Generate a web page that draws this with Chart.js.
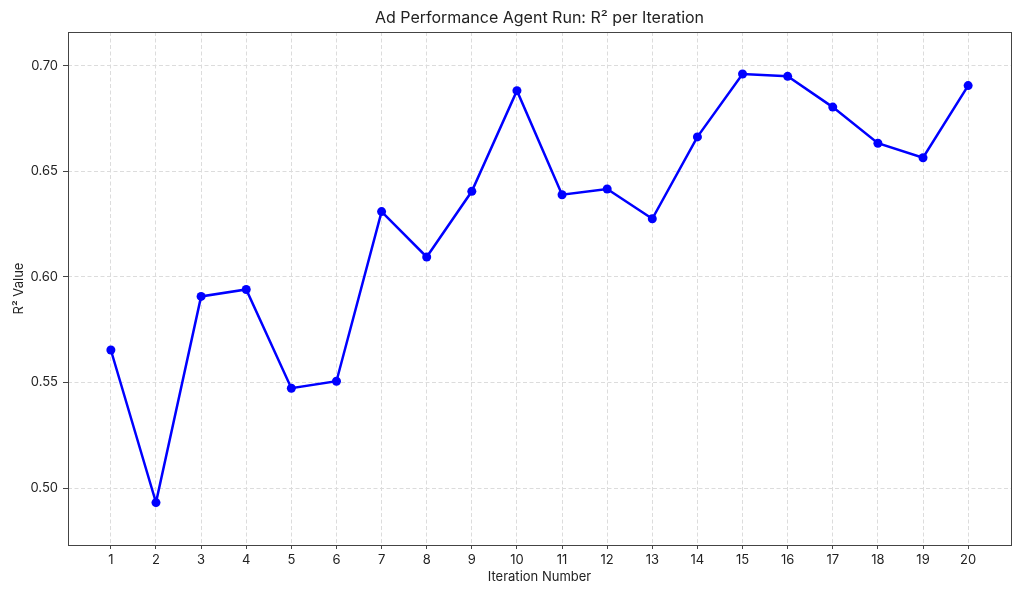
<!DOCTYPE html>
<html>
<head>
<meta charset="utf-8">
<script src="https://cdn.jsdelivr.net/npm/chart.js@4/dist/chart.umd.min.js"></script>
<style>
	html, body { margin: 0; padding: 0; background: #fff; }
	#wrap { width: 1024px; height: 597px; }
</style>
</head>
<body>
<div id="wrap"><canvas id="myChart" width="1024" height="597"></canvas></div>
<script>
var iterations = [1, 2, 3, 4, 5, 6, 7, 8, 9, 10, 11, 12, 13, 14, 15, 16, 17, 18, 19, 20]
var r2Values = [0.5654, 0.4931, 0.5908, 0.5941, 0.5473, 0.5506, 0.6310, 0.6095, 0.6406, 0.6883,
	0.6390, 0.6417, 0.6276, 0.6664, 0.6962, 0.6951, 0.6805, 0.6634, 0.6565, 0.6907]
var yTicks = [0.50, 0.55, 0.60, 0.65, 0.70]

var fontFamily = "Inter, 'Open Sans', sans-serif"
var gridColor = "#dcdcdc"
var frameColor = "#444"

// box round the plot area, like matplotlib spines
var framePlugin = {
	id: 'frame',
	afterDatasetsDraw: function(chart) {
		var a = chart.chartArea
		var ctx = chart.ctx
		ctx.save()
		ctx.strokeStyle = frameColor
		ctx.lineWidth = 1
		ctx.strokeRect(Math.round(a.left) + 0.5, Math.round(a.top) + 0.5, Math.round(a.right - a.left), Math.round(a.bottom - a.top))
		ctx.restore()
	}
}

var points = iterations.map(function(it, i){ return {x: it, y: r2Values[i]} })

var canvasCtx = document.getElementById("myChart").getContext('2d')
var config = {
	type: 'line',
	data: {
		datasets: [{
			label: 'R²',
			data: points,
			borderColor: '#0000ff',
			backgroundColor: '#0000ff',
			borderWidth: 2.5,
			pointRadius: 4.5,
			pointHoverRadius: 4.5,
			pointBorderWidth: 0,
			tension: 0,
			fill: false
		}]
	},
	options: {
		responsive: false,
		maintainAspectRatio: false,
		animation: false,
		layout: { padding: { left: 0, right: 13, top: 0, bottom: 0 } },
		plugins: {
			legend: { display: false },
			tooltip: { enabled: false },
			title: {
				display: true,
				text: 'Ad Performance Agent Run: R² per Iteration',
				fullSize: false,
				color: '#222',
				font: { family: fontFamily, size: 16, weight: 'normal', lineHeight: 1.2 },
				padding: { top: 9, bottom: 3.8 }
			}
		},
		scales: {
			x: {
				type: 'linear',
				min: 0.05,
				max: 20.95,
				afterBuildTicks: function(axis) {
					axis.ticks = iterations.map(function(v){ return {value: v} })
				},
				afterFit: function(scale) { scale.height = 52 },
				border: { display: false, dash: [4, 2.5] },
				grid: {
					color: gridColor,
					lineWidth: 1,
					tickLength: 4,
					tickColor: frameColor,
					tickWidth: 1
				},
				ticks: {
					color: '#222',
					padding: 3,
					maxRotation: 0,
					autoSkip: false,
					font: { family: fontFamily, size: 13 },
					callback: function(v) { return String(v) }
				},
				title: {
					display: true,
					text: 'Iteration Number',
					color: '#222',
					font: { family: fontFamily, size: 13, lineHeight: 1.2 },
					padding: { top: 0, bottom: 12 }
				}
			},
			y: {
				type: 'linear',
				min: 0.473,
				max: 0.7161,
				afterBuildTicks: function(axis) {
					axis.ticks = yTicks.map(function(v){ return {value: v} })
				},
				afterFit: function(scale) { scale.width = 68 },
				border: { display: false, dash: [4, 2.5] },
				grid: {
					color: gridColor,
					lineWidth: 1,
					tickLength: 5,
					tickColor: frameColor,
					tickWidth: 1
				},
				ticks: {
					color: '#222',
					padding: 5,
					autoSkip: false,
					font: { family: fontFamily, size: 13 },
					callback: function(v) { return Number(v).toFixed(2) }
				},
				title: {
					display: true,
					text: 'R² Value',
					color: '#222',
					font: { family: fontFamily, size: 13, lineHeight: 1.2 },
					padding: { top: 11.7, bottom: 0 }
				}
			}
		}
	},
	plugins: [framePlugin]
}
var myChart = new Chart(canvasCtx, config)
</script>
</body>
</html>
